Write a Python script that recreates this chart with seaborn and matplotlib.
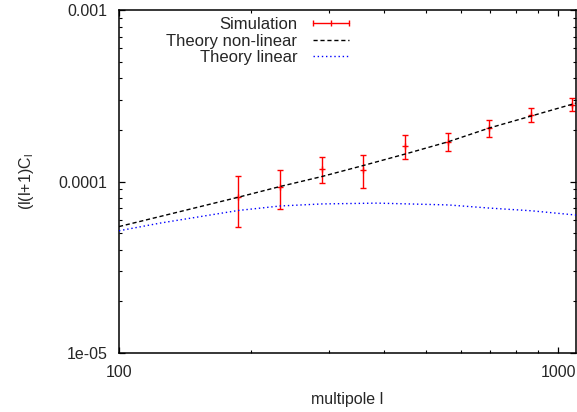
import matplotlib
matplotlib.use("Agg")
import matplotlib.pyplot as plt
import seaborn as sns
import pandas as pd
from matplotlib.lines import Line2D
from matplotlib.ticker import FixedLocator, FixedFormatter, LogLocator, NullFormatter

# ---- data ----
ell_sim = [187, 233, 290, 360, 448, 562, 696, 868, 1076]
cl_sim = [8.09e-5, 9.28e-5, 1.19e-4, 1.17e-4, 1.61e-4, 1.71e-4, 2.06e-4, 2.445e-4, 2.805e-4]
err_sim = [2.67e-5, 2.38e-5, 2.07e-5, 2.55e-5, 2.57e-5, 2.1e-5, 2.37e-5, 2.25e-5, 2.45e-5]

ell_nl = [100, 124, 187, 233, 290, 360, 448, 562, 696, 868, 1100]
cl_nl = [5.46e-5, 6.25e-5, 8.1e-5, 9.36e-5, 1.07e-4, 1.24e-4, 1.446e-4, 1.706e-4, 2.05e-4, 2.41e-4, 2.87e-4]

ell_lin = [100, 124, 187, 233, 290, 387, 562, 696, 868, 1100]
cl_lin = [5.16e-5, 5.72e-5, 6.78e-5, 7.2e-5, 7.4e-5, 7.48e-5, 7.3e-5, 7.0e-5, 6.75e-5, 6.37e-5]

x_ticks = [100, 1000]
x_labels = ["100", "1000"]
y_ticks = [1e-5, 1e-4, 1e-3]
y_labels = ["1e-05", "0.0001", "0.001"]

sns.set_style("ticks")
plt.rcParams["font.family"] = ["Liberation Sans", "DejaVu Sans"]
plt.rcParams["mathtext.fontset"] = "custom"
plt.rcParams["mathtext.rm"] = "Liberation Sans"

fig = plt.figure(figsize=(5.77, 4.12), dpi=100)
ax = fig.add_axes([119 / 577, 1 - 353 / 412, 457 / 577, 343 / 412])

ax.errorbar(ell_sim, cl_sim, yerr=err_sim, fmt="+", color="red", ecolor="red",
            elinewidth=1.0, capsize=2.0, capthick=1.0, markersize=4, mew=1.0, zorder=2)

df_nl = pd.DataFrame({"ell": ell_nl, "cl": cl_nl})
df_lin = pd.DataFrame({"ell": ell_lin, "cl": cl_lin})
sns.lineplot(data=df_nl, x="ell", y="cl", ax=ax, color="black", linewidth=1.0,
             linestyle=(0, (3, 2)), zorder=3, legend=False)
sns.lineplot(data=df_lin, x="ell", y="cl", ax=ax, color="blue", linewidth=1.0,
             linestyle=(0, (1, 2)), zorder=3, legend=False)

ax.set_xscale("log")
ax.set_yscale("log")
ax.set_xlim(100, 1097)
ax.set_ylim(1e-5, 1e-3)

ax.xaxis.set_major_locator(FixedLocator(x_ticks))
ax.xaxis.set_major_formatter(FixedFormatter(x_labels))
ax.yaxis.set_major_locator(FixedLocator(y_ticks))
ax.yaxis.set_major_formatter(FixedFormatter(y_labels))
ax.xaxis.set_minor_locator(LogLocator(base=10, subs=range(2, 10)))
ax.yaxis.set_minor_locator(LogLocator(base=10, subs=range(2, 10)))
ax.xaxis.set_minor_formatter(NullFormatter())
ax.yaxis.set_minor_formatter(NullFormatter())

ax.tick_params(which="both", direction="in", top=True, right=True, color="black")
ax.tick_params(which="major", length=4.5, width=0.9, labelsize=11.5, pad=8.5)
ax.tick_params(which="minor", length=2.2, width=0.8)
for s in ax.spines.values():
    s.set_linewidth(1.1)
    s.set_color("black")

ax.set_xlabel("multipole l", fontsize=11.5)
ax.set_ylabel(r"(l(l+1)C$_\mathregular{l}$", fontsize=11.5)
ax.xaxis.set_label_coords(0.5, -0.114)
ax.yaxis.set_label_coords(-0.182, 0.5)

h_sim = Line2D([], [], color="red", lw=1.0, marker="|", markersize=5, mew=1.0)
h_nl = Line2D([], [], color="black", lw=1.0, linestyle=(0, (3, 2)))
h_lin = Line2D([], [], color="blue", lw=1.0, linestyle=(0, (1, 2)))
ax.legend([h_sim, h_nl, h_lin], ["Simulation", "Theory non-linear", "Theory linear"],
          loc="upper right", bbox_to_anchor=(354 / 577, 1 - 17 / 412),
          bbox_transform=fig.transFigure, frameon=False, markerfirst=False,
          numpoints=3, handlelength=2.75, handletextpad=0.65, labelspacing=0.1,
          borderpad=0, borderaxespad=0, fontsize=12)

fig.savefig("out.png", dpi=100)
